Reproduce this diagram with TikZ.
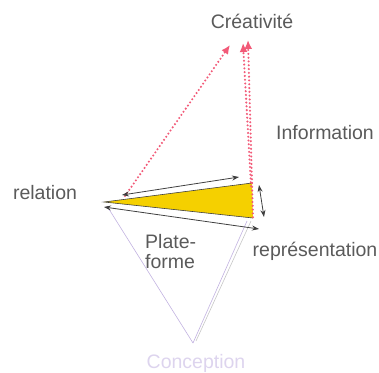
\documentclass[tikz,border=0pt]{standalone}
\usepackage{fontspec}
\setmainfont{Liberation Sans}
\usetikzlibrary{arrows.meta}
\definecolor{txt}{HTML}{5A5A5A}
\definecolor{dotred}{HTML}{F25A78}
\definecolor{yel}{HTML}{F5D000}
\definecolor{lav}{HTML}{C2B2E0}
\definecolor{lavtxt}{HTML}{DDD4EE}
\definecolor{arr}{HTML}{404040}
\begin{document}
\begin{tikzpicture}[x=1pt,y=-1pt,
  lab/.style={font=\fontsize{19.5}{20}\selectfont, text=txt, inner sep=0pt},
  reddot/.style={draw=dotred, line width=2.3pt, line cap=round, dash pattern=on 0pt off 3.8pt, -{Latex[length=9pt,width=8pt]}},
  reddotplain/.style={draw=dotred, line width=2.3pt, line cap=round, dash pattern=on 0pt off 3.8pt},
  dbl/.style={draw=arr, line width=0.8pt, {Stealth[length=7pt,width=5pt]}-{Stealth[length=7pt,width=5pt]}},
  lavline/.style={draw=lav, line width=0.6pt}]
\useasboundingbox (0,0) rectangle (379,372);

% triangle corners
\coordinate (A) at (104,202);
\coordinate (B) at (252,183);
\coordinate (C) at (253,218);

% lavender lines to Conception
\coordinate (L1) at (107,206);
\coordinate (R1) at (247,221);
\coordinate (R2) at (251,221);
\coordinate (P1) at (193,343);
\coordinate (P2) at (196,341);
\draw[lavline] (L1) -- (P1);
\draw[lavline] (R1) -- (P1);
\draw[draw=gray!45, line width=0.6pt] (R2) -- (P2);

% yellow triangle
\fill[yel] (A) -- (B) -- (C) -- cycle;
\draw[arr, line width=0.6pt] (B) -- (A) -- (C);

% red dotted lines
\coordinate (S1) at (125,196);
\coordinate (T1) at (230,45);
\coordinate (T2) at (243,43);
\coordinate (T3) at (248,40);
\coordinate (B2) at (251,186);
\draw[reddot] (S1) -- (T1);
\draw[reddot] (B2) -- (T2);
\draw[reddot] (B) -- (T3);
\draw[reddotplain] (B) -- (C);

% double arrows
\coordinate (u1) at (122,195);
\coordinate (u2) at (239,177);
\coordinate (d1) at (104,207);
\coordinate (d2) at (259,229);
\coordinate (v1) at (259,185);
\coordinate (v2) at (264,217);
\draw[dbl] (u1) -- (u2);
\draw[dbl] (d1) -- (d2);
\draw[dbl] (v1) -- (v2);

% labels
\node[lab, anchor=base] (crea) at (252,28) {Créativité};
\node[lab, anchor=base] (info) at (325,139) {Information};
\node[lab, anchor=base] (rel) at (45,199) {relation};
\node[lab, anchor=north west, align=left] (plate) at (145,234) {Plate-\\forme};
\node[lab, anchor=base] (repr) at (315,256) {représentation};
\node[lab, anchor=base, text=lavtxt] (conc) at (196,368) {Conception};
\end{tikzpicture}
\end{document}
